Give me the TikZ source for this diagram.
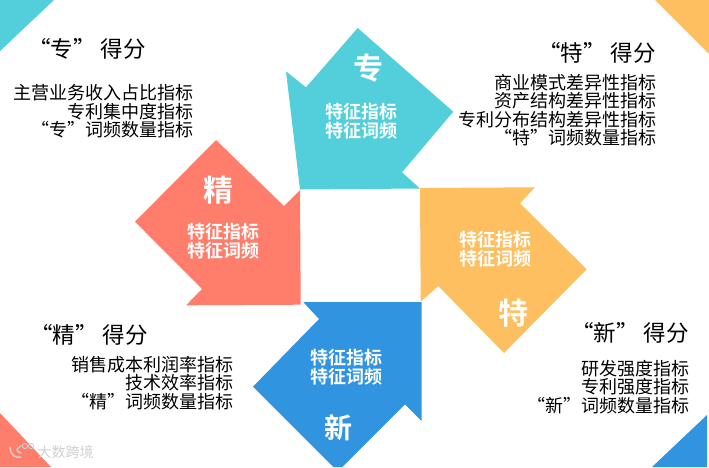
\documentclass[tikz,border=0pt]{standalone}
\usepackage{fontspec}
\setmainfont{Noto Sans CJK SC}
\newfontfamily\cjkbold{Noto Sans CJK SC Bold}
\definecolor{cy}{HTML}{52CFDA}
\definecolor{co}{HTML}{FF7E6B}
\definecolor{or}{HTML}{FDBF60}
\definecolor{bl}{HTML}{3094E0}
\definecolor{wm}{HTML}{D0D0D0}
\tikzset{
  head/.style={anchor=east,inner sep=0pt,text=black,font=\fontsize{22.5}{24}\selectfont},
  body/.style={anchor=east,inner sep=0pt,align=right,text=black,font=\fontsize{18}{18.5}\selectfont},
  inner label/.style={inner sep=0pt,align=center,text=white,font=\cjkbold\fontsize{18}{18.8}\selectfont},
  big/.style={inner sep=0pt,text=white,font=\cjkbold\fontsize{30}{32}\selectfont}
}
\begin{document}
\begin{tikzpicture}[x=1pt,y=-1pt]
\useasboundingbox (0,0) rectangle (709,467);
% corners
\fill[cy] (0,0) -- (54,0) -- (0,51) -- cycle;
\fill[or] (655,0) -- (709,0) -- (709,54) -- cycle;
\fill[bl] (707,415) -- (707,467) -- (652,467) -- cycle;
\fill[co] (0,413) -- (51,467) -- (0,467) -- cycle;
% arrows
\fill[cy] (357.7,28) -- (453.3,111.7) -- (402,172.3) -- (420,188.5) -- (300,189.5) -- (286,71.3) -- (306,87.3) -- cycle;
\fill[co] (216,140) -- (284,206) -- (300,190) -- (300.7,304.7) -- (186,305.3) -- (202,289) -- (135,221.7) -- cycle;
\fill[or] (420,188) -- (535,187.3) -- (520,203.3) -- (586.7,269.3) -- (504,353) -- (438.3,286) -- (420.7,301.7) -- cycle;
\fill[bl] (303.3,302) -- (421.7,302) -- (421.7,421) -- (405,404.3) -- (342.3,467) -- (333.3,467) -- (253,386.7) -- (319,319) -- cycle;
% big letters
\node[big] (bz) at (368,68) {专};
\node[big] (bj) at (218,190) {精};
\node[big] (bt) at (513,313) {特};
\node[big,font=\cjkbold\fontsize{28}{30}\selectfont] (bx) at (338,428) {新};
% inner labels
\node[inner label] (lz) at (361,121) {特征指标\\特征词频};
\node[inner label] (lj) at (223,241) {特征指标\\特征词频};
\node[inner label] (lt) at (495,249.5) {特征指标\\特征词频};
\node[inner label] (lx) at (346.5,367.5) {特征指标\\特征词频};
% headings
\node[head] (hz) at (146,49) {“专”\kern5pt 得分};
\node[head] (ht) at (656,53) {“特”\kern5pt 得分};
\node[head] (hj) at (148,335) {“精”\kern5pt 得分};
\node[head] (hx) at (689,333) {“新”\kern5pt 得分};
% bodies
\node[body] (tz) at (194,111.5) {主营业务收入占比指标\\专利集中度指标\\“专”词频数量指标};
\node[body] (tt) at (657,110) {商业模式差异性指标\\资产结构差异性指标\\专利分布结构差异性指标\\“特”词频数量指标};
\node[body] (tj) at (234,383) {销售成本利润率指标\\技术效率指标\\“精”词频数量指标};
\node[body] (tx) at (690,387) {研发强度指标\\专利强度指标\\“新”词频数量指标};
% watermark
\node[inner sep=0pt,text=wm,font=\fontsize{14}{14}\selectfont] (wm) at (65.5,452.5) {大数跨境};
\draw[wm,line width=1.4pt,line cap=round] (10,447) .. controls (11,456) and (15,458) .. (21,457);
\draw[wm,line width=1.4pt,line cap=round] (21,446) .. controls (16,449) and (15,451) .. (21,453);
\draw[wm,line width=0.9pt] (25,446) circle (2.6);
\draw[wm,line width=0.9pt] (31,446) circle (2.6);
\end{tikzpicture}
\end{document}
